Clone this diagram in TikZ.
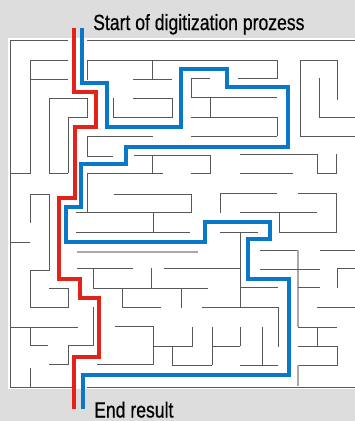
\documentclass[tikz,border=0pt]{standalone}
\usepackage{fontspec}
\setmainfont{Liberation Sans}
\newfontfamily\capfont[FakeBold=0.6]{Liberation Sans}
\usepackage{graphicx}
\definecolor{bgc}{HTML}{DDDDDD}
\definecolor{wallc}{HTML}{585858}
\definecolor{walllight}{HTML}{A8A8A8}
\definecolor{redpath}{HTML}{E2231A}
\definecolor{bluepath}{HTML}{0A78C8}
\begin{document}
\begin{tikzpicture}[x=1pt,y=-1pt,
  wall/.style={draw=wallc,line width=0.9pt},
  lightwall/.style={draw=walllight,line width=1.1pt},
  route/.style={line width=4.6pt,line join=miter},
  caption/.style={anchor=base west,inner sep=0pt,font=\capfont\fontsize{22}{24}\selectfont,text=black}]
\useasboundingbox (0,0) rectangle (355,421);
\fill[bgc] (0,0) rectangle (355,421);
\fill[white] (8,38) rectangle (355,389);
% border
\draw[wall] (10,387) -- (10,40) -- (68,40);
\draw[wall] (87,40) -- (355,40);
\draw[wall] (10,387) -- (72,387);
\draw[wall] (87,387) -- (355,387);
% upper part
\draw[wall] (30,60) -- (68,60);
\draw[wall] (87,80) -- (87,60) -- (277,60) -- (277,78) -- (238,78);
\draw[wall] (30,79) -- (68,79);
\draw[wall] (10,173) -- (30,173) -- (30,60);
\draw[wall] (49,173) -- (49,98) -- (87,98) -- (87,117) -- (68,117) -- (68,173);
\draw[wall] (49,173) -- (68,173);
\draw[wall] (153,136) -- (87,136) -- (87,156) -- (113,156);
\draw[wall] (113,98) -- (113,117) -- (172,117) -- (172,98) -- (133,98);
\draw[wall] (133,79) -- (172,79);
\draw[wall] (152,60) -- (152,79);
\draw[wall] (191,97) -- (191,78) -- (210,78);
\draw[wall] (191,97) -- (277,97);
\draw[wall] (210,97) -- (210,117);
\draw[wall] (191,117) -- (277,117) -- (277,136);
\draw[wall] (191,136) -- (277,136);
\draw[wall] (337,100) -- (337,60) -- (300,60) -- (300,136) -- (355,136);
\draw[wall] (319,78) -- (319,117) -- (355,117);
% middle part
\draw[wall] (134,155) -- (210,155) -- (210,173) -- (191,173);
\draw[wall] (152,155) -- (152,173);
\draw[wall] (163,173) -- (87,173) -- (87,212);
\draw[wall] (114,194) -- (191,194) -- (191,212) -- (76,212);
\draw[wall] (153,212) -- (153,232);
\draw[wall] (76,232) -- (190,232);
\draw[wall] (240,154) -- (317,154) -- (317,173) -- (336,173) -- (336,154);
\draw[wall] (240,173) -- (293,173);
\draw[wall] (220,213) -- (220,193) -- (277,193);
\draw[wall] (298,193) -- (336,193) -- (336,232) -- (279,232) -- (279,212);
\draw[wall] (240,212) -- (317,212);
\draw[wall] (220,232) -- (258,232);
\draw[wall] (240,232) -- (240,307);
\draw[wall] (164,268) -- (240,268);
\draw[lightwall] (77,252) -- (198,252);
\draw[wall] (133,268) -- (77,268);
\draw[wall] (93,268) -- (93,288) -- (208,288);
\draw[wall] (151,268) -- (151,288);
\draw[wall] (122,288) -- (122,307) -- (161,307);
\draw[wall] (181,288) -- (181,308);
\draw[wall] (202,307) -- (278,307) -- (278,347);
\draw[wall] (240,287) -- (278,287);
% lower right part
\draw[wall] (260,250) -- (298,250);
\draw[lightwall] (298,250) -- (298,327);
\draw[wall] (260,269) -- (320,269);
\draw[wall] (320,250) -- (355,250);
\draw[wall] (337,288) -- (337,268) -- (355,268);
\draw[wall] (298,287) -- (320,287);
\draw[wall] (317,307) -- (355,307);
\draw[wall] (298,327) -- (337,327);
\draw[wall] (317,327) -- (317,346);
\draw[wall] (298,346) -- (337,346) -- (337,365) -- (298,365);
\draw[lightwall] (298,365) -- (298,386);
\draw[wall] (240,327) -- (240,346);
\draw[wall] (262,327) -- (262,365);
\draw[wall] (240,365) -- (278,365);
\draw[wall] (212,327) -- (212,365);
\draw[wall] (212,346) -- (240,346);
\draw[wall] (172,346) -- (172,365) -- (212,365);
\draw[wall] (192,327) -- (192,346) -- (153,346);
\draw[wall] (115,326) -- (153,326) -- (153,364) -- (97,364);
% lower left part
\draw[wall] (30,223) -- (30,194) -- (49,194) -- (49,270) -- (30,270) -- (30,307) -- (68,307) -- (68,288) -- (49,288);
\draw[wall] (10,242) -- (30,242);
\draw[wall] (10,327) -- (78,327);
\draw[wall] (48,345) -- (30,345) -- (30,327);
\draw[wall] (49,364) -- (68,364) -- (68,345) -- (93,345) -- (93,307);
\draw[wall] (30,368) -- (30,387);
% routes
\draw[route,redpath] (74,28) -- (74,92) -- (96,92) -- (96,127) -- (75,127) -- (75,198)
  -- (59,198) -- (59,279) -- (80,279) -- (80,298) -- (99,298) -- (99,357) -- (74,357) -- (74,409);
\draw[route,bluepath] (82,28) -- (82,83) -- (107,83) -- (107,127) -- (181,127) -- (181,69)
  -- (227,69) -- (227,87) -- (288,87) -- (288,147) -- (126,147) -- (126,164) -- (81,164)
  -- (81,207) -- (66,207) -- (66,242) -- (205,242) -- (205,222) -- (270,222) -- (270,239)
  -- (248,239) -- (248,279) -- (289,279) -- (289,375) -- (83,375) -- (83,409);
% captions
\node[caption] (start) at (93,30) {\scalebox{0.8}[1]{Start of digitization prozess}};
\node[caption] (end) at (94,417.5) {\scalebox{0.8}[1]{End result}};
\end{tikzpicture}
\end{document}
